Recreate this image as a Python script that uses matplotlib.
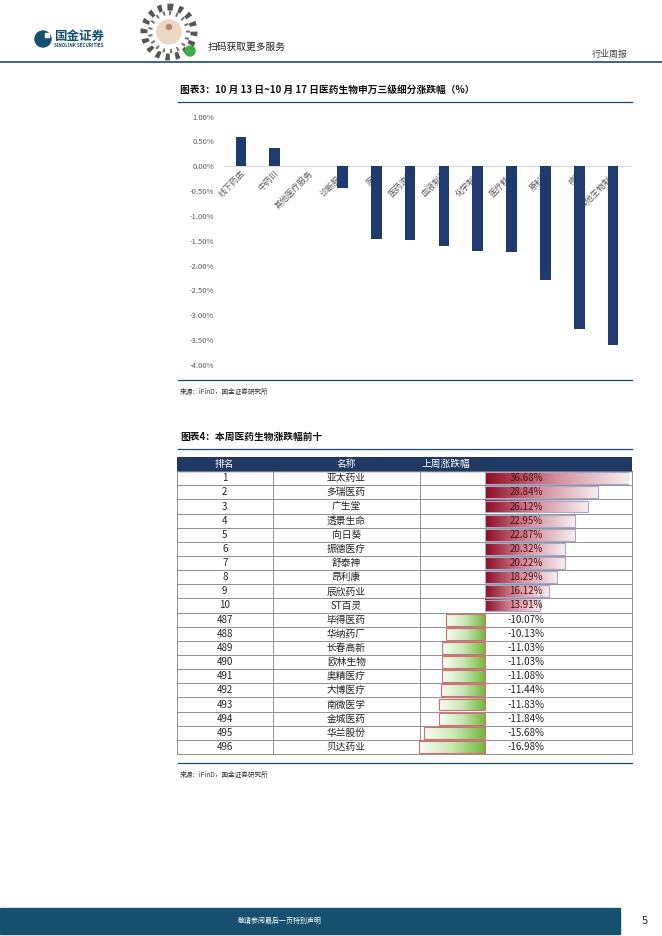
import numpy as np
import matplotlib.pyplot as plt
from matplotlib.patches import Circle, Rectangle
from matplotlib.colors import LinearSegmentedColormap
from matplotlib.transforms import blended_transform_factory

plt.rcParams['font.family'] = ['Noto Sans CJK SC', 'DejaVu Sans']

# 图表3 数据
sectors = ['线下药店', '中药Ⅲ', '其他医疗服务', '诊断服务', '医院', '医药流通',
           '血液制品', '化学制剂', '医疗耗材', '原料药', '疫苗', '其他生物制品']
sector_chg = [0.58, 0.37, 0.00, -0.44, -1.46, -1.49,
              -1.60, -1.70, -1.72, -2.28, -3.28, -3.59]

# 图表4 数据
ranks = ['1', '2', '3', '4', '5', '6', '7', '8', '9', '10',
         '487', '488', '489', '490', '491', '492', '493', '494', '495', '496']
names = ['亚太药业', '多瑞医药', '广生堂', '透景生命', '向日葵', '振德医疗', '舒泰神',
         '昂利康', '辰欣药业', 'ST百灵', '毕得医药', '华纳药厂', '长春高新', '欧林生物',
         '奥精医疗', '大博医疗', '南微医学', '金城医药', '华兰股份', '贝达药业']
week_chg = [36.68, 28.84, 26.12, 22.95, 22.87, 20.32, 20.22, 18.29, 16.12, 13.91,
            -10.07, -10.13, -11.03, -11.03, -11.08, -11.44, -11.83, -11.84, -15.68, -16.98]

teal = '#17506e'
navy = '#1f3a6e'

fig = plt.figure(figsize=(6.62, 9.36), dpi=100)

# 页面背景层（像素坐标）
bg = fig.add_axes([0, 0, 1, 1], zorder=0)
bg.set_xlim(0, 662)
bg.set_ylim(936, 0)
bg.axis('off')

# 页眉
bg.add_patch(Circle((43, 39), 8, color=teal))
bg.add_patch(Rectangle((45, 33), 4, 4, color='white'))
bg.text(54, 36, '国金证券', fontsize=9, fontweight='bold', color=teal, va='center')
bg.text(54, 45.5, 'SINOLINK SECURITIES', fontsize=3.3, fontweight='bold', color=teal, va='center')
bg.add_patch(Circle((169, 32), 25, facecolor='white', edgecolor='#555555',
                    linestyle=(0, (0.6, 0.8)), linewidth=5))
bg.add_patch(Circle((169, 32), 19, facecolor='none', edgecolor='#777777',
                    linestyle=(0, (0.5, 1.2)), linewidth=3))
bg.add_patch(Circle((169, 32), 12, color='#ecd7c2'))
bg.add_patch(Circle((169, 27), 2.5, color='#b98a5e'))
bg.add_patch(Circle((190, 51), 5, color='#3fae49'))
bg.text(208, 47, '扫码获取更多服务', fontsize=7, color='#222222', va='center')
bg.text(628, 54, '行业周报', fontsize=6.5, color='#444444', va='center', ha='right')
bg.plot([0, 662], [62, 62], color=teal, lw=1.2)

# 图表3 标题
bg.text(180, 90, '图表3：10 月 13 日~10 月 17 日医药生物申万三级细分涨跌幅（%）',
        fontsize=7, fontweight='bold', color='#111111', va='center')
bg.plot([178, 632], [102, 102], color='#1f4f5f', lw=0.9)
bg.plot([178, 632], [380, 380], color='#1f4f5f', lw=0.9)
bg.text(180, 392, '来源：iFinD，国金证券研究所', fontsize=4.8, color='#333333', va='center')

# 图表4 标题
bg.text(180, 437, '图表4：本周医药生物涨跌幅前十', fontsize=7, fontweight='bold',
        color='#111111', va='center')
bg.plot([178, 632], [449, 449], color='#1f4f5f', lw=0.9)
bg.plot([178, 632], [763, 763], color='#1f4f5f', lw=0.9)
bg.text(180, 775, '来源：iFinD，国金证券研究所', fontsize=4.8, color='#333333', va='center')

# 页脚
bg.add_patch(Rectangle((0, 908), 620, 26, color='#15506f'))
bg.text(280, 921, '敬请参阅最后一页特别声明', fontsize=5, color='white', va='center', ha='center')
bg.text(645, 921, '5', fontsize=8, color='#222222', va='center', ha='center')

# 图表3 柱状图
W, H = 662, 936
ax = fig.add_axes([224 / W, (H - 365) / H, 406 / W, 248.5 / H], zorder=2)
x = np.arange(len(sectors))
ax.bar(x, sector_chg, width=0.32, color=navy, zorder=3)
ax.set_xlim(-0.5, len(sectors) - 0.5)
ax.set_ylim(-4, 1)
ax.set_yticks(np.arange(-4, 1.01, 0.5))
ax.yaxis.set_major_formatter(plt.FuncFormatter(lambda v, p: f'{v:.2f}%'))
for s in ['top', 'right', 'left']:
    ax.spines[s].set_visible(False)
ax.spines['bottom'].set_position(('data', 0))
ax.spines['bottom'].set_color('#d9d9d9')
ax.spines['bottom'].set_linewidth(0.8)
ax.set_xticks(x)
ax.set_xticklabels(sectors, rotation=45, ha='right', rotation_mode='anchor',
                   fontsize=6, color='#595959')
for lbl in ax.get_xticklabels():
    lbl.set_zorder(1)
ax.tick_params(axis='x', length=0, pad=2)
ax.tick_params(axis='y', length=0, labelsize=5.5, labelcolor='#595959', pad=7)
ax.patch.set_alpha(0)

# 图表4 表格
n = len(ranks) + 1
tb = fig.add_axes([177 / W, (H - 754) / H, 455 / W, 297 / H], zorder=2)
tb.set_xlim(0, 1)
tb.set_ylim(n - 0.5, -0.5)
tb.axis('off')
tb.add_patch(Rectangle((0, -0.5), 1, 1, color='#1f3864'))
col_edges = [0, 0.211, 0.534, 1]
tb.text(0.105, 0, '排名', fontsize=7, color='white', ha='center', va='center')
tb.text(0.372, 0, '名称', fontsize=7, color='white', ha='center', va='center')
tb.text(0.538, 0, '上周涨跌幅', fontsize=7, color='white', ha='left', va='center')
for i in range(1, n + 1):
    tb.plot([0, 1], [i - 0.5, i - 0.5], color='#7f7f7f', lw=0.6, clip_on=False)
for cx in col_edges:
    tb.plot([cx, cx], [0.5, n - 0.5], color='#7f7f7f', lw=0.6, clip_on=False)
for i, (r, nm) in enumerate(zip(ranks, names), start=1):
    tb.text(0.105, i, r, fontsize=7, color='#222222', ha='center', va='center')
    tb.text(0.372, i, nm, fontsize=7, color='#222222', ha='center', va='center')

# 数据条
bx = fig.add_axes([419 / W, (H - 754) / H, 210 / W, 297 / H], zorder=3)
bx.patch.set_alpha(0)
bx.axis('off')
red_cmap = LinearSegmentedColormap.from_list('r', ['#8e0b22', '#d58f9d', '#f6eef2'])
green_cmap = LinearSegmentedColormap.from_list('g', ['#fbfdf8', '#c7e6b0', '#6cb93a'])
grad = np.linspace(0, 1, 256).reshape(1, -1)
for i, v in enumerate(week_chg, start=1):
    if v >= 0:
        bx.imshow(grad, extent=(0, v, i + 0.42, i - 0.42), aspect='auto', cmap=red_cmap,
                  interpolation='bilinear', zorder=1)
        bx.barh(i, v, height=0.84, fill=False, edgecolor='#a7a7cc', lw=0.8, zorder=2)
    else:
        bx.imshow(grad, extent=(v, 0, i + 0.42, i - 0.42), aspect='auto', cmap=green_cmap,
                  interpolation='bilinear', zorder=1)
        bx.barh(i, v, height=0.84, fill=False, edgecolor='#e06a6a', lw=0.8, zorder=2)
bx.set_xlim(min(week_chg), max(week_chg))
bx.set_ylim(n - 0.5, -0.5)
trans = blended_transform_factory(bx.transAxes, bx.transData)
for i, v in enumerate(week_chg, start=1):
    bx.text(0.51, i, f'{v:.2f}%', transform=trans, fontsize=7, ha='center', va='center',
            color='#5a0a14' if v >= 0 else '#222222', zorder=5)

fig.savefig('out.png', dpi=100)
